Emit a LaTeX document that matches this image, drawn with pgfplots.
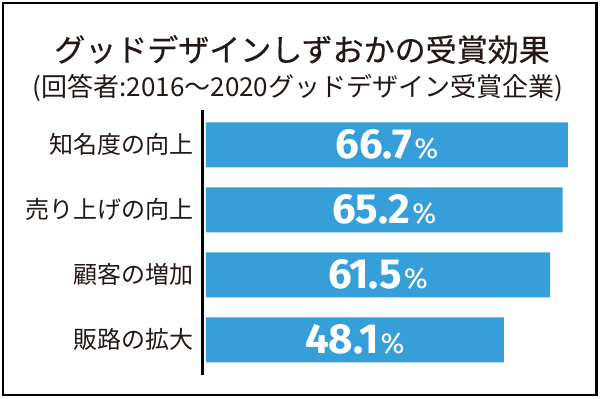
\documentclass[border=0pt]{standalone}
\usepackage{fontspec}
\usepackage{pgfplots}
\pgfplotsset{compat=1.18}
\usepackage{pgfplotstable}
\setmainfont{Noto Sans CJK JP}
\newfontfamily\jp{Noto Sans CJK JP}
\newfontfamily\jpt{Noto Sans CJK JP}[FakeBold=0.5]
\newfontfamily\num{Fira Sans}
\definecolor{barblue}{HTML}{369FD9}
\definecolor{ink}{HTML}{231815}

\pgfplotstableread{
y v
0 66.7
1 65.2
2 61.5
3 48.1
}\data

\begin{document}
\begin{tikzpicture}[x=1pt,y=1pt]
\useasboundingbox (0,0) rectangle (600,399);
\draw[line width=2.5pt, black] (3,4) rectangle (596.5,396);
\node[font=\jpt\fontsize{31}{31}\selectfont, text=ink, anchor=center] at (302,349.5) {グッドデザインしずおかの受賞効果};
\node[font=\jp\fontsize{26}{26}\selectfont, text=ink, anchor=center] at (298,311) {(回答者:2016～2020グッドデザイン受賞企業)};
\begin{axis}[at={(203pt,24pt)}, anchor=south west, scale only axis,
  width=381.4pt, height=265pt,
  xmin=-0.87, xmax=110, ymin=-0.535, ymax=3.54, y dir=reverse,
  hide x axis, axis y line*=left,
  y axis line style={line width=3pt, -, black},
  ytick={0,1,2,3},
  yticklabels={知名度の向上,売り上げの向上,顧客の増加,販路の拡大},
  major tick length=0pt,
  yticklabel style={font=\jp\fontsize{24}{24}\selectfont, text=ink, anchor=east, inner sep=0pt, xshift=-9pt},
  clip=false]
\addplot[xbar, bar width=45pt, fill=barblue, draw=none] table[x expr=\thisrow{v}+38.5, y=y] {\data};
\addplot[only marks, mark=*, mark options={draw=none,fill=none,mark size=0pt},
  point meta=explicit,
  nodes near coords={{\num\bfseries\fontsize{42}{42}\selectfont\pgfmathprintnumber[fixed,precision=1,fixed zerofill,assume math mode=true]{\pgfplotspointmeta}}\kern2pt{\num\mdseries\fontsize{29}{29}\selectfont\%}},
  every node near coord/.append style={text=white, anchor=center, inner sep=0pt}]
  table[x expr=(\thisrow{v}+38.5)/2, y=y, meta=v] {\data};
\end{axis}
\end{tikzpicture}
\end{document}
